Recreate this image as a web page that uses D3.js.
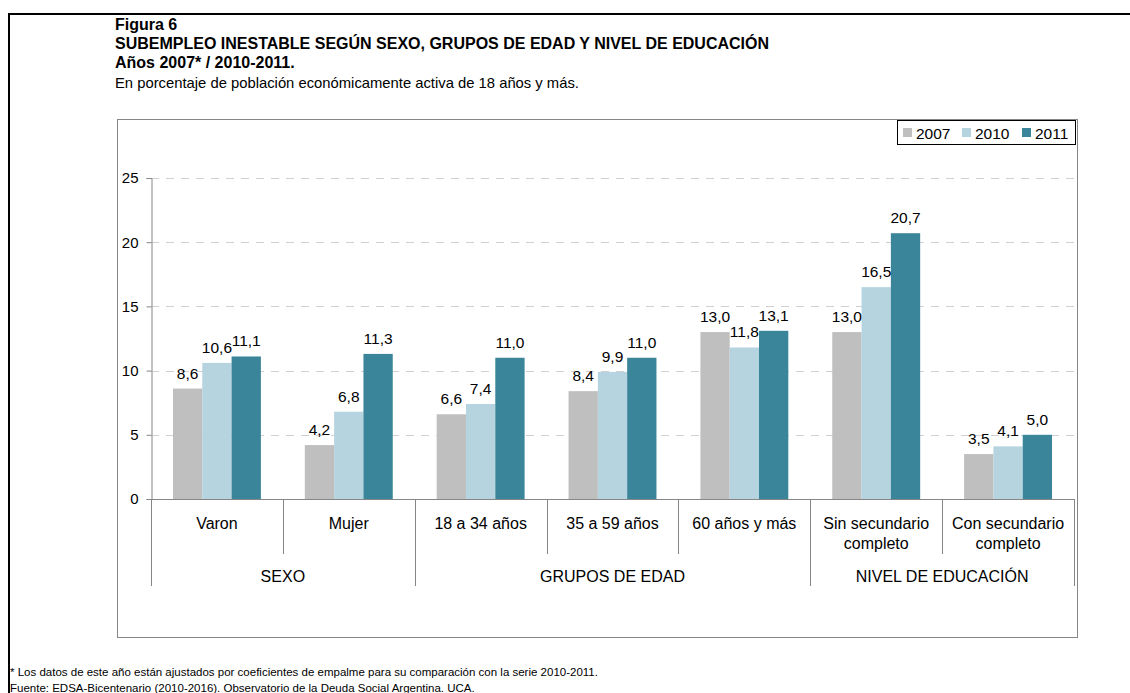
<!DOCTYPE html>
<html>
<head>
<meta charset="utf-8">
<script src="https://cdn.jsdelivr.net/npm/d3@7"></script>
<style>
  body { margin: 0; background: #fff; }
  svg { display: block; font-family: "Liberation Sans", Arial, sans-serif; }
</style>
</head>
<body>
<div id="container"></div>
<script>
// data
const categories = ["Varon", "Mujer", "18 a 34 años", "35 a 59 años", "60 años y más", "Sin secundario|completo", "Con secundario|completo"];
const groups = [
    { name: "SEXO", from: 0, to: 2 },
    { name: "GRUPOS DE EDAD", from: 2, to: 5 },
    { name: "NIVEL DE EDUCACIÓN", from: 5, to: 7 },
];
const years = ["2007", "2010", "2011"];
const values2007 = [8.6, 4.2, 6.6, 8.4, 13.0, 13.0, 3.5];
const values2010 = [10.6, 6.8, 7.4, 9.9, 11.8, 16.5, 4.1];
const values2011 = [11.1, 11.3, 11.0, 11.0, 13.1, 20.7, 5.0];
const yTicks = [0, 5, 10, 15, 20, 25];

const COLORS = { "2007": "#bfbfbf", "2010": "#b5d4e0", "2011": "#3a8599" };
const WIDTH = 1130;
const HEIGHT = 693;
const plot = { left: 151, right: 1074, top: 178, bottom: 499 };

const svg = d3.select("#container").append("svg")
    .attr("width", WIDTH)
    .attr("height", HEIGHT);

// outer frame (black, cut at right and bottom)
svg.append("path")
    .attr("d", `M9,${HEIGHT + 2} V14 H${WIDTH + 2}`)
    .attr("fill", "none")
    .attr("stroke", "#000")
    .attr("stroke-width", 2);

// headings
const head = svg.append("g").attr("fill", "#000");
head.append("text").attr("x", 115).attr("y", 30).attr("font-size", 16).attr("font-weight", "bold").text("Figura 6");
head.append("text").attr("x", 115).attr("y", 49).attr("font-size", 16).attr("font-weight", "bold")
    .text("SUBEMPLEO INESTABLE SEGÚN SEXO, GRUPOS DE EDAD Y NIVEL DE EDUCACIÓN");
head.append("text").attr("x", 115).attr("y", 68).attr("font-size", 16).attr("font-weight", "bold").text("Años 2007* / 2010-2011.");
head.append("text").attr("x", 115).attr("y", 88).attr("font-size", 14.8).text("En porcentaje de población económicamente activa de 18 años y más.");

// chart frame
svg.append("rect")
    .attr("x", 117.5).attr("y", 119.5)
    .attr("width", 960).attr("height", 518)
    .attr("fill", "none")
    .attr("stroke", "#868686")
    .attr("stroke-width", 1);

// scales
const y = d3.scaleLinear().domain([0, 25]).range([plot.bottom, plot.top]);
const x0 = d3.scaleBand().domain(d3.range(categories.length)).range([plot.left, plot.right]).padding(0);
const x1 = d3.scaleBand().domain(years).range([0, x0.bandwidth()]).paddingInner(0).paddingOuter(0.75);

// gridlines
svg.append("g")
    .selectAll("line")
    .data(yTicks.filter((d) => d > 0))
    .join("line")
    .attr("x1", plot.left).attr("x2", plot.right)
    .attr("y1", (d) => Math.round(y(d)) + 0.5).attr("y2", (d) => Math.round(y(d)) + 0.5)
    .attr("stroke", "#d0d0d0")
    .attr("stroke-dasharray", "8,7");

// y axis
const yAxis = svg.append("g")
    .attr("transform", `translate(${plot.left + 0.5},0)`)
    .call(d3.axisLeft(y).tickValues(yTicks).tickSize(5).tickPadding(8).tickFormat(d3.format("d")));
yAxis.select(".domain").attr("stroke", "#868686");
yAxis.selectAll(".tick line").attr("stroke", "#868686");
yAxis.selectAll(".tick text").attr("font-size", 15).attr("fill", "#000").attr("font-family", "Liberation Sans, Arial, sans-serif");

// bars
const series = [values2007, values2010, values2011];
const barData = [];
categories.forEach((c, i) => {
    years.forEach((yr, k) => {
        barData.push({ cat: i, year: yr, value: series[k][i] });
    });
});

svg.append("g")
    .selectAll("rect")
    .data(barData)
    .join("rect")
    .attr("x", (d) => x0(d.cat) + x1(d.year))
    .attr("y", (d) => y(d.value))
    .attr("width", x1.bandwidth())
    .attr("height", (d) => y(0) - y(d.value))
    .attr("fill", (d) => COLORS[d.year]);

// data labels
const fmt = (v) => v.toFixed(1).replace(".", ",");
svg.append("g")
    .selectAll("text")
    .data(barData)
    .join("text")
    .attr("x", (d) => x0(d.cat) + x1(d.year) + x1.bandwidth() / 2)
    .attr("y", (d) => y(d.value) - 10)
    .attr("text-anchor", "middle")
    .attr("font-size", 15.5)
    .attr("fill", "#000")
    .text((d) => fmt(d.value));

// category axis
const catAxis = svg.append("g").attr("stroke", "#868686");
catAxis.append("line")
    .attr("x1", plot.left).attr("x2", plot.right + 1)
    .attr("y1", plot.bottom + 0.5).attr("y2", plot.bottom + 0.5);
const groupEdges = new Set(groups.flatMap((g) => [g.from, g.to]));
d3.range(categories.length + 1).forEach((i) => {
    const xx = Math.round(i < categories.length ? x0(i) : plot.right) + 0.5;
    catAxis.append("line")
        .attr("x1", xx).attr("x2", xx)
        .attr("y1", plot.bottom).attr("y2", groupEdges.has(i) ? 586 : 554);
});

const catLabels = svg.append("g").attr("font-size", 16).attr("text-anchor", "middle").attr("fill", "#000");
categories.forEach((c, i) => {
    const lines = c.split("|");
    const t = catLabels.append("text")
        .attr("x", x0(i) + x0.bandwidth() / 2)
        .attr("y", 529);
    lines.forEach((ln, j) => {
        t.append("tspan")
            .attr("x", x0(i) + x0.bandwidth() / 2)
            .attr("dy", j === 0 ? 0 : 20)
            .text(ln);
    });
});

groups.forEach((g) => {
    const xa = x0(g.from);
    const xb = g.to < categories.length ? x0(g.to) : plot.right;
    catLabels.append("text")
        .attr("x", (xa + xb) / 2)
        .attr("y", 582)
        .text(g.name);
});

// legend
const legend = svg.append("g");
legend.append("rect")
    .attr("x", 897.5).attr("y", 120.5)
    .attr("width", 178).attr("height", 24)
    .attr("fill", "#fff")
    .attr("stroke", "#000");
const legendX = [903, 962, 1022];
years.forEach((yr, k) => {
    legend.append("rect")
        .attr("x", legendX[k]).attr("y", 128)
        .attr("width", 9).attr("height", 9)
        .attr("fill", COLORS[yr]);
    legend.append("text")
        .attr("x", legendX[k] + 13).attr("y", 138.5)
        .attr("font-size", 15.5)
        .text(yr);
});

// footnotes
const foot = svg.append("g").attr("font-size", 11.5).attr("fill", "#000");
foot.append("text").attr("x", 10).attr("y", 676)
    .text("* Los datos de este año están ajustados por coeficientes de empalme para su comparación con la serie 2010-2011.");
foot.append("text").attr("x", 10).attr("y", 692)
    .text("Fuente: EDSA-Bicentenario (2010-2016). Observatorio de la Deuda Social Argentina. UCA.");
</script>
</body>
</html>
